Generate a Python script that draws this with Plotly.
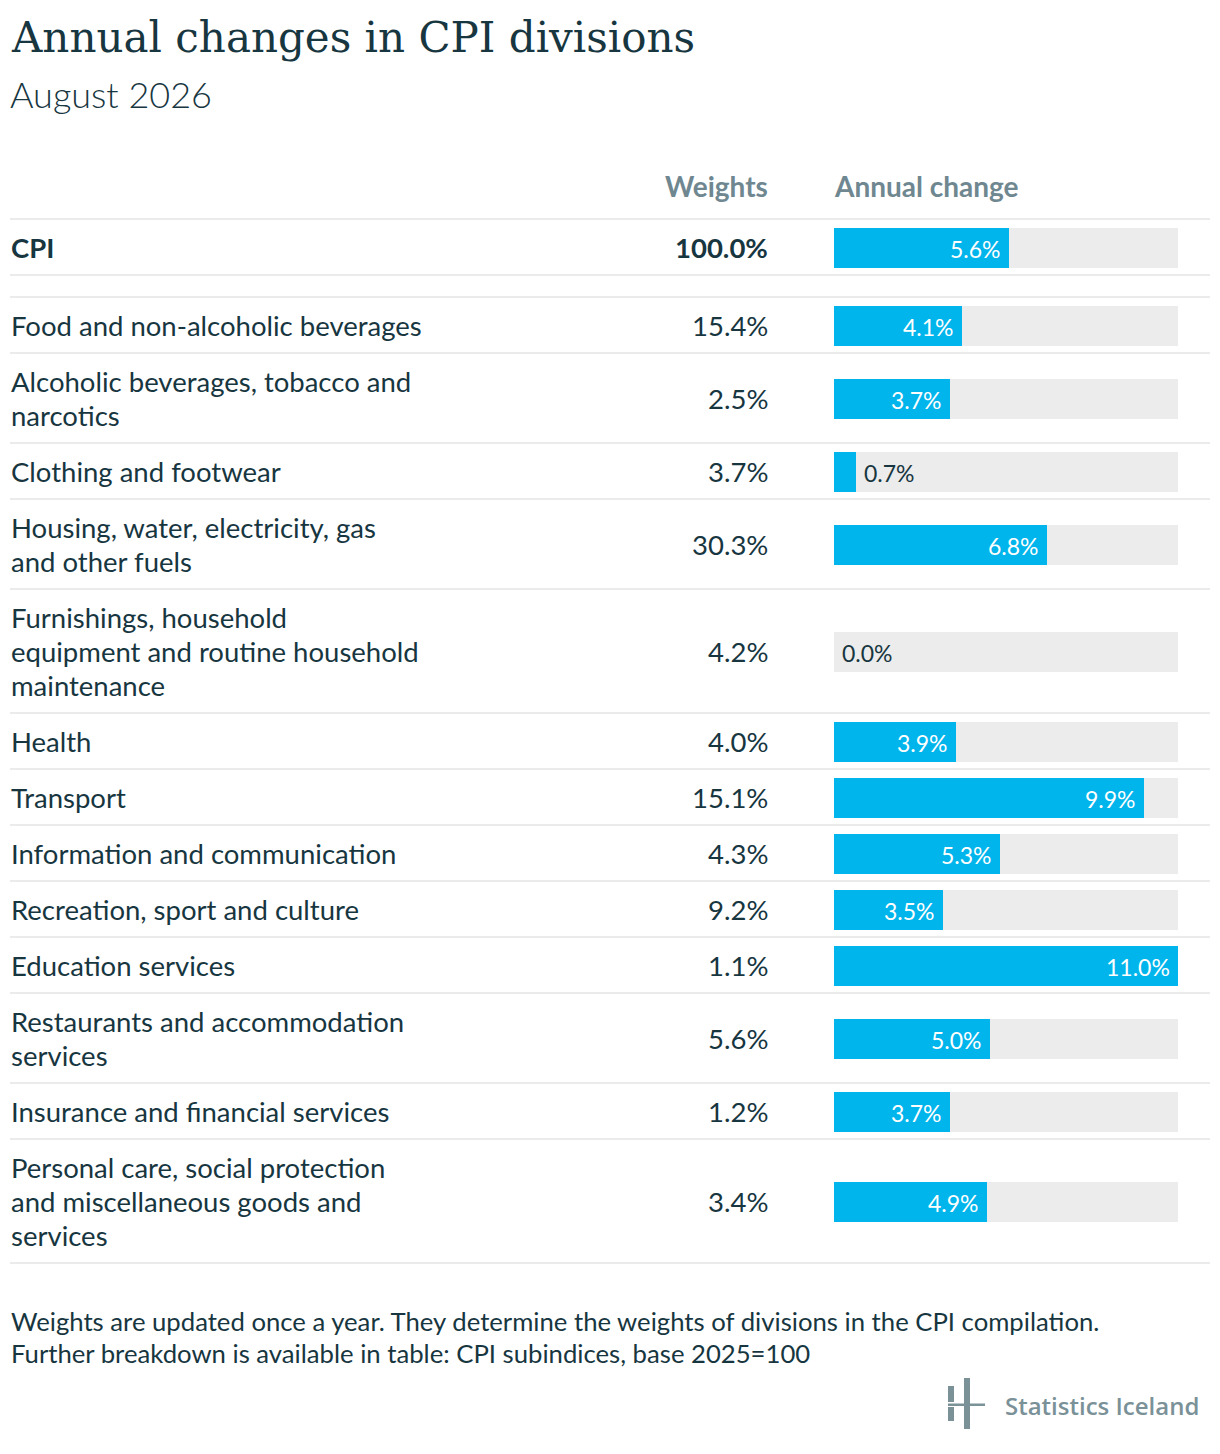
import plotly.graph_objects as go

# ---------------- data ----------------
categories = [
    "CPI",
    "Food and non-alcoholic beverages",
    "Alcoholic beverages, tobacco and<br>narcotics",
    "Clothing and footwear",
    "Housing, water, electricity, gas<br>and other fuels",
    "Furnishings, household<br>equipment and routine household<br>maintenance",
    "Health",
    "Transport",
    "Information and communication",
    "Recreation, sport and culture",
    "Education services",
    "Restaurants and accommodation<br>services",
    "Insurance and financial services",
    "Personal care, social protection<br>and miscellaneous goods and<br>services",
]
weights = [100.0, 15.4, 2.5, 3.7, 30.3, 4.2, 4.0, 15.1, 4.3, 9.2, 1.1, 5.6, 1.2, 3.4]
annual_change = [5.6, 4.1, 3.7, 0.7, 6.8, 0.0, 3.9, 9.9, 5.3, 3.5, 11.0, 5.0, 3.7, 4.9]

title = "Annual changes in CPI divisions"
subtitle = "August 2026"
col_headers = ["Weights", "Annual change"]
footnotes = [
    "Weights are updated once a year. They determine the weights of divisions in the CPI compilation.",
    "Further breakdown is available in table: CPI subindices, base 2025=100",
]
brand = "Statistics Iceland"

# ---------------- layout constants (page pixels) ----------------
W, H = 1220, 1454
OFF = 8  # page body margin
LEFT = 10
RIGHT = 1210
WEIGHT_RIGHT = 769
BAR_L, BAR_R = 834, 1178
TABLE_TOP = 218
LINE_H = 34
ROW_PAD = 22
GAP_AFTER_TOTAL = 22
BAR_H = 40
BAR_DY = 2

DARK = "#17363f"
GREY = "#6f8790"
BLUE = "#00b5ec"
TRACK = "#ececec"
SEP = "#ebebeb"
FONT = "Lato"
TXT = 27.5

def px(x):
    return (x - OFF) / W

# row geometry derived from number of label lines
line_counts = [c.count("<br>") + 1 for c in categories]
row_tops, row_bottoms, centers = [], [], []
y = TABLE_TOP
for i, n in enumerate(line_counts):
    h = ROW_PAD + LINE_H * n
    row_tops.append(y)
    row_bottoms.append(y + h)
    centers.append(y + h / 2)
    y += h
    if i == 0:
        y += GAP_AFTER_TOTAL
bar_centers = [c + BAR_DY for c in centers]

max_val = max(annual_change)
px_per_unit = (BAR_R - BAR_L) / max_val

fig = go.Figure()
fig.add_trace(go.Bar(
    x=[max_val] * len(categories), y=bar_centers, orientation="h", width=BAR_H,
    marker=dict(color=TRACK, line=dict(width=0)), hoverinfo="skip", showlegend=False,
))
fig.add_trace(go.Bar(
    x=annual_change, y=bar_centers, orientation="h", width=BAR_H,
    marker=dict(color=BLUE, line=dict(width=0)),
    showlegend=False,
    hovertemplate="%{x:.1f}%<extra></extra>",
))

annotations = []
shapes = []

# bar value labels (inside end when they fit, otherwise just outside)
for v, cy in zip(annual_change, bar_centers):
    inside = v * px_per_unit >= 60
    annotations.append(dict(
        text=f"{v:.1f}%", x=v, y=cy + 1, xref="x", yref="y",
        xanchor="right" if inside else "left", yanchor="middle",
        xshift=-6 if inside else 6, showarrow=False,
        font=dict(family=FONT, size=23, color="white" if inside else DARK),
    ))

# title & subtitle
annotations.append(dict(text=title, x=px(LEFT - 1), y=37, xref="paper", yref="y",
                        xanchor="left", yanchor="middle", showarrow=False,
                        font=dict(family="DejaVu Serif", size=42, color=DARK)))
annotations.append(dict(text=subtitle, x=px(LEFT - 2), y=94, xref="paper", yref="y",
                        xanchor="left", yanchor="middle", showarrow=False,
                        font=dict(family=FONT, size=36, color=DARK, weight=300)))

# column headers
annotations.append(dict(text=col_headers[0], x=px(WEIGHT_RIGHT + 1), y=186, xref="paper", yref="y",
                        xanchor="right", yanchor="middle", showarrow=False,
                        font=dict(family=FONT, size=28, color=GREY, weight="bold")))
annotations.append(dict(text=col_headers[1], x=px(BAR_L - 2), y=186, xref="paper", yref="y",
                        xanchor="left", yanchor="middle", showarrow=False,
                        font=dict(family=FONT, size=28, color=GREY, weight="bold")))

# rows
for i, (cat, w) in enumerate(zip(categories, weights)):
    bold = i == 0
    lines = cat.split("<br>")
    n = len(lines)
    for k, ln in enumerate(lines):
        ly = centers[i] + 1 + (k - (n - 1) / 2) * LINE_H
        annotations.append(dict(text=ln, x=px(LEFT - 1), y=ly, xref="paper", yref="y",
                                xanchor="left", yanchor="middle", showarrow=False,
                                font=dict(family=FONT, size=TXT, color=DARK,
                                          weight="bold" if bold else "normal")))
    annotations.append(dict(text=f"{w:.1f}%", x=px(WEIGHT_RIGHT + 1), y=centers[i] + 1, xref="paper", yref="y",
                            xanchor="right", yanchor="middle", showarrow=False,
                            font=dict(family=FONT, size=TXT, color=DARK,
                                      weight="bold" if bold else "normal")))

# separators
sep_ys = sorted(set(row_tops + row_bottoms))
for sy in sep_ys:
    shapes.append(dict(type="line", xref="paper", yref="y", x0=px(LEFT), x1=px(RIGHT),
                       y0=sy + 1, y1=sy + 1, line=dict(color=SEP, width=2)))

# footnotes
for k, fn in enumerate(footnotes):
    annotations.append(dict(text=fn, x=px(LEFT - 1), y=1321 + k * 32, xref="paper", yref="y",
                            xanchor="left", yanchor="middle", showarrow=False,
                            font=dict(family=FONT, size=25.7, color=DARK)))

# brand logo
LOGO = "#7a9198"
for (x0, x1, y0, y1) in [(948, 954, 1386, 1402), (948, 954, 1407, 1421), (964, 970, 1378, 1429)]:
    shapes.append(dict(type="rect", xref="paper", yref="y", x0=px(x0), x1=px(x1), y0=y0, y1=y1,
                       line=dict(width=0), fillcolor=LOGO))
shapes.append(dict(type="rect", xref="paper", yref="y", x0=px(948), x1=px(985), y0=1403.5, y1=1406,
                   line=dict(width=0), fillcolor=LOGO))
annotations.append(dict(text=brand, x=px(1201), y=1405, xref="paper", yref="y",
                        xanchor="right", yanchor="middle", showarrow=False,
                        font=dict(family="Open Sans", size=24, color=LOGO, weight=600)))

fig.update_layout(
    width=W, height=H,
    margin=dict(l=0, r=0, t=0, b=0),
    paper_bgcolor="white", plot_bgcolor="white",
    barmode="overlay", bargap=0,
    xaxis=dict(domain=[px(BAR_L), px(BAR_R)], range=[0, max_val], visible=False, fixedrange=True),
    yaxis=dict(domain=[0, 1], range=[H + OFF, OFF], visible=False, fixedrange=True),
    annotations=annotations, shapes=shapes,
    font=dict(family=FONT, color=DARK),
)

fig.write_html("out.html")
